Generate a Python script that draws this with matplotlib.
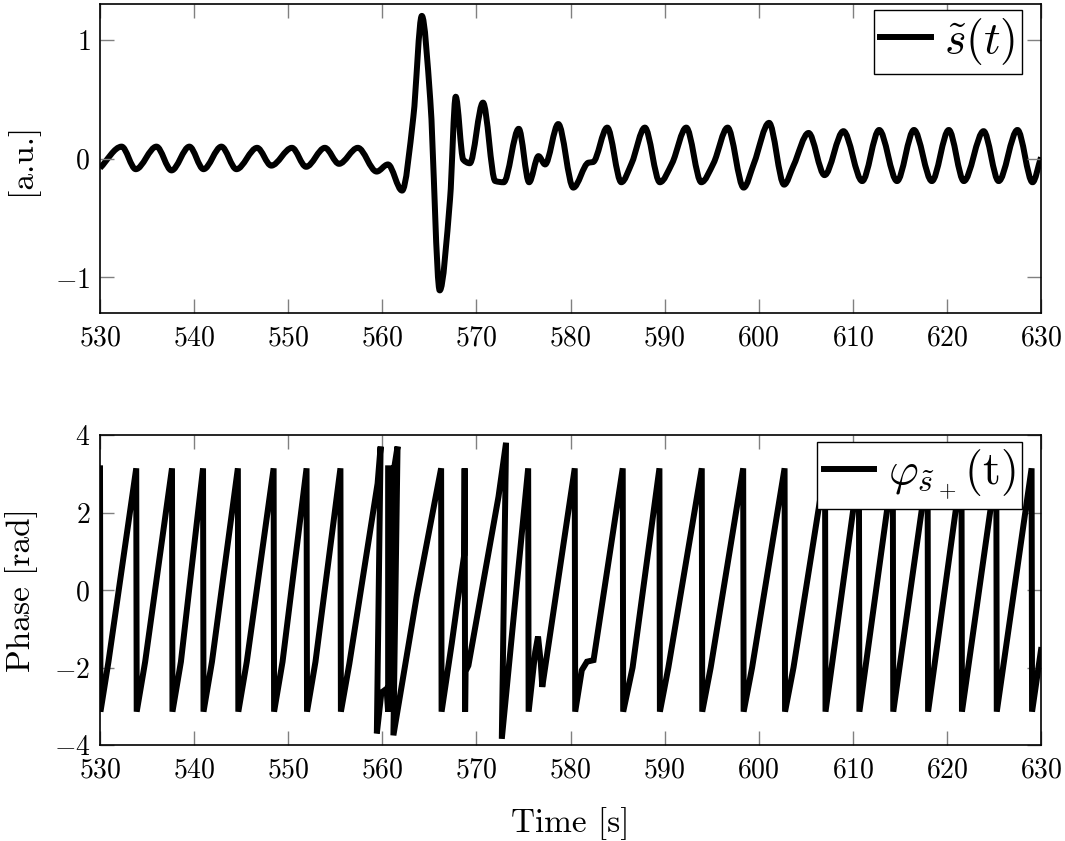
import matplotlib
matplotlib.use('Agg')
import matplotlib.pyplot as plt
from matplotlib.path import Path
from matplotlib.patches import PathPatch

plt.rcParams['font.family'] = 'serif'
plt.rcParams['font.serif'] = ['cmr10']
plt.rcParams['mathtext.fontset'] = 'cm'
plt.rcParams['axes.formatter.use_mathtext'] = True

# signal s~(t) (extrema and shoulders)
t_sig = [530.0, 532.3, 533.8, 536.0, 537.6, 539.5, 541.0, 542.9, 544.5, 546.7,
         548.2, 550.4, 551.9, 553.9, 555.4, 557.4, 559.4, 560.6, 562.1, 563.3,
         564.2, 565.1, 566.1, 567.2, 567.8, 568.6, 569.3, 570.7, 572.0, 572.9,
         574.5, 575.6, 576.6, 577.3, 578.7, 580.3, 581.9, 582.4, 583.9, 585.4,
         586.5, 587.9, 589.5, 590.8, 592.3, 593.9, 595.2, 596.7, 598.4, 599.5,
         601.1, 602.7, 603.7, 605.3, 607.0, 609.0, 611.0, 612.8, 614.7, 616.5,
         618.4, 620.2, 621.8, 623.9, 625.5, 627.5, 629.1, 630.0]
s_sig = [-0.08, 0.10, -0.09, 0.10, -0.10, 0.10, -0.09, 0.10, -0.09, 0.09,
         -0.06, 0.09, -0.07, 0.09, -0.045, 0.09, -0.11, -0.05, -0.27, 0.35,
         1.20, 0.49, -1.11, -0.34, 0.52, -0.01, -0.04, 0.47, -0.19, -0.20,
         0.25, -0.20, 0.02, -0.05, 0.29, -0.245, -0.035, -0.03, 0.26, -0.20,
         -0.04, 0.26, -0.20, -0.04, 0.26, -0.20, -0.04, 0.26, -0.245, -0.04,
         0.30, -0.22, -0.06, 0.215, -0.14, 0.23, -0.19, 0.24, -0.19, 0.24,
         -0.19, 0.24, -0.19, 0.23, -0.19, 0.24, -0.20, 0.01]

# phase of the analytic signal
t_phase = [530.0, 530.05, 530.9, 533.85,
           533.9, 534.8, 537.65,
           537.7, 538.6, 540.95,
           541.0, 541.9, 544.65,
           544.7, 545.6, 548.45,
           548.5, 549.4, 551.95,
           552.0, 552.9, 555.55,
           555.6, 556.5, 559.5, 559.82,
           559.42, 559.9, 560.45, 560.62, 560.62, 561.05, 561.1, 561.1, 561.62,
           561.18, 563.65, 566.25,
           566.3, 567.38, 568.27, 568.7, 568.75, 568.8, 568.85, 569.15, 572.35, 573.15,
           572.7, 575.5,
           575.55, 576.25, 576.55, 576.85, 577.0, 580.45,
           580.5, 581.2, 581.75, 582.45, 585.55,
           585.6, 586.6, 589.45,
           589.5, 590.4, 593.95,
           594.0, 594.9, 598.35,
           598.4, 599.3, 602.75,
           602.8, 603.7, 607.05,
           607.1, 610.65,
           610.7, 614.25,
           614.3, 617.95,
           618.0, 621.55,
           621.6, 625.25,
           625.3, 629.0,
           629.05, 630.0]
phase = [3.14, -3.14, -1.85, 3.14,
         -3.14, -1.85, 3.14,
         -3.14, -1.85, 3.14,
         -3.14, -1.85, 3.14,
         -3.14, -1.85, 3.14,
         -3.14, -1.85, 3.14,
         -3.14, -1.85, 3.14,
         -3.14, -1.9, 2.75, 3.7,
         -3.7, -2.65, -2.55, -3.14, 3.14, 3.14, -3.14, 2.9, 3.7,
         -3.75, -0.17, 3.14,
         -3.14, -1.38, 0.18, 0.9, 3.14, -3.14, -2.1, -1.95, 2.41, 3.8,
         -3.84, 3.14,
         -3.14, -1.6, -1.2, -1.9, -2.5, 3.14,
         -3.14, -2.07, -1.85, -1.81, 3.14,
         -3.14, -2.0, 3.14,
         -3.14, -2.0, 3.14,
         -3.14, -2.0, 3.14,
         -3.14, -2.0, 3.14,
         -3.14, -2.0, 3.14,
         -3.14, 3.14,
         -3.14, 3.14,
         -3.14, 3.14,
         -3.14, 3.14,
         -3.14, 3.14,
         -3.14, 3.14,
         -3.14, -1.55]

LW = 4.3


def smooth_path(x, y):
    # monotone cubic drawn through the read points (flat at the extrema)
    n = len(x)
    d = [(y[i + 1] - y[i]) / (x[i + 1] - x[i]) for i in range(n - 1)]
    m = [d[0]] + [0.0] * (n - 2) + [d[-1]]
    for i in range(1, n - 1):
        if d[i - 1] * d[i] > 0:
            m[i] = 2 / (1 / d[i - 1] + 1 / d[i])
    verts = [(x[0], y[0])]
    codes = [Path.MOVETO]
    for i in range(n - 1):
        h = x[i + 1] - x[i]
        verts += [(x[i] + h / 3, y[i] + m[i] * h / 3),
                  (x[i + 1] - h / 3, y[i + 1] - m[i + 1] * h / 3),
                  (x[i + 1], y[i + 1])]
        codes += [Path.CURVE4] * 3
    return Path(verts, codes)


fig = plt.figure(figsize=(10.65, 8.41), dpi=100)
ax1 = fig.add_axes([100 / 1065, 1 - 313 / 841, 941 / 1065, 309 / 841])
ax2 = fig.add_axes([100 / 1065, 1 - 745 / 841, 941 / 1065, 310 / 841])

for ax in (ax1, ax2):
    ax.tick_params(direction='in', length=10, width=1, color='gray',
                   top=True, right=True, labelsize=20)
    ax.tick_params(axis='x', pad=9)
    ax.tick_params(axis='y', pad=7)
    for sp in ax.spines.values():
        sp.set_linewidth(1.2)
    ax.set_xlim(530, 630)
    ax.set_xticks(range(530, 631, 10))

leg_style = dict(borderaxespad=0, fontsize=33, fancybox=False, edgecolor='black',
                 framealpha=1, handlelength=1.1, handletextpad=0.3, borderpad=0.14)

ax1.add_patch(PathPatch(smooth_path(t_sig, s_sig), fill=False, edgecolor='black',
                        lw=LW, joinstyle='round', capstyle='butt'))
ax1.plot([], [], color='black', lw=LW, label=r'$\tilde{s}(t)\hspace{0.3}$')
ax1.set_ylim(-1.3, 1.3)
ax1.set_yticks([-1, 0, 1])
ax1.set_ylabel('[a.u.]', fontsize=24)
ax1.yaxis.set_label_coords(-0.066, 0.5)
ax1.legend(loc='upper right', bbox_to_anchor=(1 - 19 / 941, 1 - 6 / 309), **leg_style)

ax2.plot(t_phase, phase, color='black', lw=LW, solid_joinstyle='miter',
         label=r'$\varphi_{\tilde{s}_+}(\mathrm{t})\hspace{0.3}$')
ax2.set_ylim(-4, 4)
ax2.set_yticks([-4, -2, 0, 2, 4])
ax2.set_ylabel('Phase [rad]', fontsize=24)
ax2.yaxis.set_label_coords(-0.066, 0.5)
ax2.set_xlabel('Time [s]', fontsize=24)
ax2.xaxis.set_label_coords(0.5, -0.2)
ax2.legend(loc='upper right', bbox_to_anchor=(1 - 19 / 941, 1 - 7 / 310), **leg_style)

fig.savefig('out.png', dpi=100)
